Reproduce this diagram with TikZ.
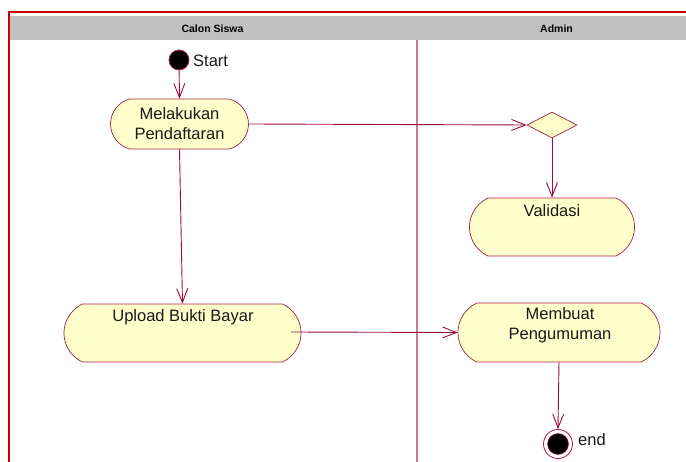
\documentclass[tikz,border=0pt]{standalone}
\usepackage{fontspec}
\setmainfont{Liberation Sans}
\usetikzlibrary{shapes.misc,shapes.geometric,arrows.meta}
\definecolor{frame}{RGB}{200,0,0}
\definecolor{hdr}{RGB}{192,192,192}
\definecolor{lane}{RGB}{208,120,150}
\definecolor{shfill}{RGB}{255,255,204}
\definecolor{shdraw}{RGB}{170,30,70}
\definecolor{arr}{RGB}{155,10,60}
\tikzset{
  x=1pt, y=-1pt,
  act/.style={rounded rectangle, rounded rectangle arc length=130, draw=shdraw, fill=shfill, line width=0.7pt, inner sep=0pt},
  txt/.style={font=\fontsize{16.5}{20}\selectfont, align=center, inner sep=0pt, text=black!90},
  hdrtxt/.style={font=\fontsize{10.5}{12}\selectfont\bfseries, inner sep=0pt, anchor=base},
  flow/.style={draw=arr, line width=0.9pt, -{Straight Barb[length=14pt,width=11pt]}},
}
\begin{document}
\begin{tikzpicture}
\useasboundingbox (0,0) rectangle (686,462);
% header and frame
\fill[hdr] (10,16) rectangle (686,40);
\draw[frame, line width=2pt] (9,462) -- (9,12) -- (686,12);
\draw[lane, line width=1.4pt] (417,40) -- (417,462);
\node[hdrtxt] (h1) at (212.5,32.5) {Calon Siswa};
\node[hdrtxt] (h2) at (556.5,32.5) {Admin};
% nodes
\node[circle, fill=black, draw=shdraw, line width=0.8pt, minimum size=20pt, inner sep=0pt] (start) at (179,60) {};
\node[txt, anchor=base west] (startlbl) at (193,67) {Start};
\node[act, rounded rectangle arc length=150, minimum width=138pt, minimum height=50pt, txt] (mel) at (179.5,124) {Melakukan\\Pendaftaran};
\node[diamond, draw=shdraw, fill=shfill, line width=0.7pt, minimum width=50pt, minimum height=26pt, inner sep=0pt] (dia) at (552,125) {};
\node[act, minimum width=165pt, minimum height=58pt] (val) at (552,227) {};
\node[txt, anchor=base] (valtxt) at (552,217) {Validasi};
\node[act, minimum width=237pt, minimum height=58pt] (up) at (182.5,333) {};
\node[txt, anchor=base] (uptxt) at (183,322) {Upload Bukti Bayar};
\node[act, minimum width=202pt, minimum height=59pt] (mem) at (559,332.5) {};
\node[txt, anchor=north] (memtxt) at (560,307.5) {Membuat\\Pengumuman};
\node[circle, draw=shdraw, fill=white, line width=0.8pt, minimum size=29pt, inner sep=0pt] (end) at (558,444) {};
\node[circle, fill=black, draw=shdraw, line width=0.5pt, minimum size=21pt, inner sep=0pt] (endin) at (end.center) {};
\node[txt, anchor=base west] (endlbl) at (578,446) {end};
\coordinate (upout) at (291,332);
% flows
\draw[flow] (start) -- (mel.north);
\draw[flow] (mel.east) -- (dia.west);
\draw[flow] (dia.south) -- (val.north);
\draw[flow] (mel.south) -- (up.north);
\draw[flow] (upout) -- (mem.west);
\draw[flow] (mem.south) -- (end.north);
\end{tikzpicture}
\end{document}
